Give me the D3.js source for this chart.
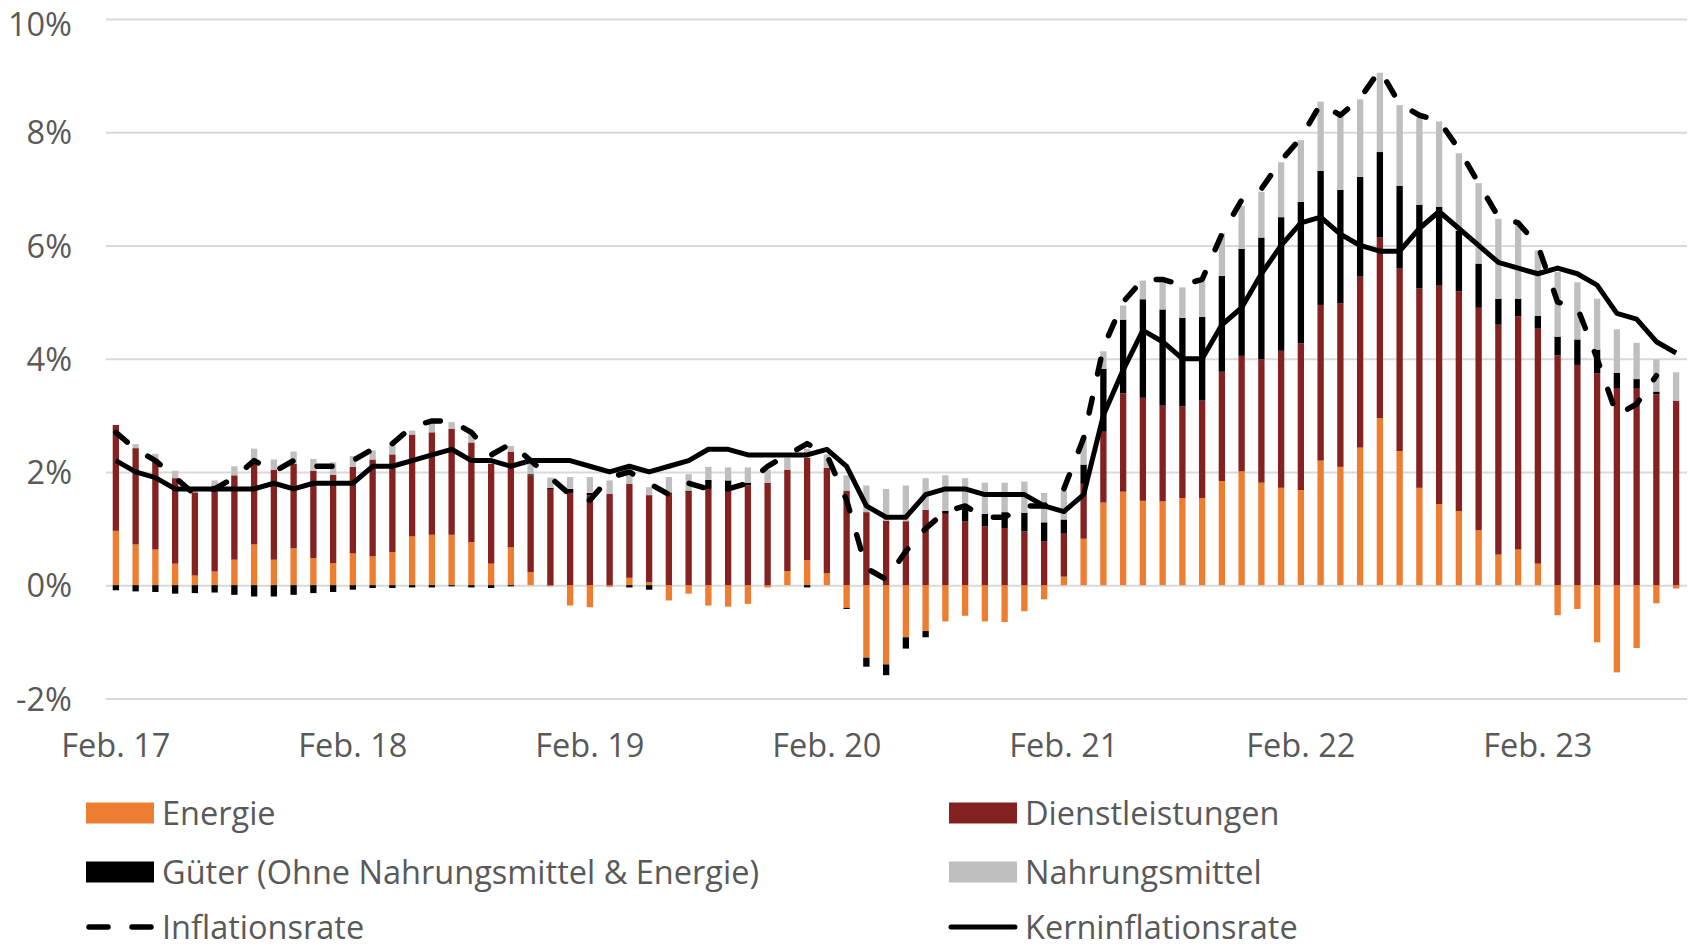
<!DOCTYPE html>
<html>
<head>
<meta charset="utf-8">
<script src="https://cdn.jsdelivr.net/npm/d3@7"></script>
<style>
  body { margin: 0; background: #fff; }
  .container text { font-family: "Open Sans", sans-serif; fill: #595959; }
</style>
</head>
<body>
<div class="container"></div>
<script>
var width = 1690;
var height = 950;

// Monate Feb. 2017 bis Sep. 2023
var months = [
  "2017-02","2017-03","2017-04","2017-05","2017-06","2017-07","2017-08","2017-09","2017-10","2017-11","2017-12",
  "2018-01","2018-02","2018-03","2018-04","2018-05","2018-06","2018-07","2018-08","2018-09","2018-10","2018-11","2018-12",
  "2019-01","2019-02","2019-03","2019-04","2019-05","2019-06","2019-07","2019-08","2019-09","2019-10","2019-11","2019-12",
  "2020-01","2020-02","2020-03","2020-04","2020-05","2020-06","2020-07","2020-08","2020-09","2020-10","2020-11","2020-12",
  "2021-01","2021-02","2021-03","2021-04","2021-05","2021-06","2021-07","2021-08","2021-09","2021-10","2021-11","2021-12",
  "2022-01","2022-02","2022-03","2022-04","2022-05","2022-06","2022-07","2022-08","2022-09","2022-10","2022-11","2022-12",
  "2023-01","2023-02","2023-03","2023-04","2023-05","2023-06","2023-07","2023-08","2023-09"
];

var tickMonths = ["2017-02","2018-02","2019-02","2020-02","2021-02","2022-02","2023-02"];
var tickLabels = ["Feb. 17","Feb. 18","Feb. 19","Feb. 20","Feb. 21","Feb. 22","Feb. 23"];
var yTicks = [-2, 0, 2, 4, 6, 8, 10];

// Beiträge in Prozentpunkten
var energie = [
  0.96,0.72,0.63,0.38,0.17,0.24,0.45,0.72,0.45,0.65,0.48,
  0.39,0.56,0.51,0.58,0.86,0.89,0.89,0.76,0.38,0.67,0.23,-0.02,
  -0.36,-0.39,-0.03,0.13,0.05,-0.27,-0.15,-0.36,-0.38,-0.33,-0.04,0.25,
  0.44,0.21,-0.40,-1.28,-1.40,-0.92,-0.81,-0.64,-0.54,-0.64,-0.65,-0.46,
  -0.25,0.15,0.82,1.46,1.65,1.49,1.48,1.54,1.54,1.84,2.01,1.81,
  1.72,1.68,2.20,2.09,2.43,2.95,2.37,1.72,1.43,1.31,0.97,0.54,
  0.63,0.38,-0.53,-0.42,-1.01,-1.54,-1.11,-0.32,-0.06
];
var dienstleistungen = [
  1.87,1.70,1.60,1.51,1.47,1.52,1.49,1.43,1.59,1.49,1.54,
  1.56,1.53,1.71,1.73,1.80,1.81,1.87,1.76,1.76,1.69,1.71,1.70,
  1.63,1.59,1.61,1.66,1.54,1.64,1.65,1.70,1.65,1.76,1.81,1.79,
  1.81,1.86,1.67,1.29,1.14,1.13,1.33,1.26,1.13,1.04,1.01,0.95,
  0.77,0.76,0.97,1.25,1.74,1.82,1.69,1.62,1.72,1.93,2.04,2.18,
  2.42,2.59,2.75,2.89,3.02,3.19,3.23,3.52,3.86,3.88,3.93,4.06,
  4.12,4.15,4.06,3.89,3.74,3.47,3.47,3.37,3.26
];
var gueter = [
  -0.09,-0.11,-0.12,-0.15,-0.14,-0.13,-0.17,-0.20,-0.20,-0.17,-0.14,
  -0.12,-0.08,-0.05,-0.05,-0.04,-0.04,-0.02,-0.04,-0.05,-0.02,0.02,0.02,
  0.07,0.04,0.00,-0.04,-0.08,0.00,0.02,0.16,0.20,0.05,0.00,0.00,
  -0.04,0.00,-0.02,-0.16,-0.19,-0.20,-0.11,0.05,0.23,0.22,0.28,0.33,
  0.34,0.25,0.34,1.11,1.30,1.74,1.70,1.56,1.48,1.69,1.89,2.15,
  2.36,2.50,2.37,2.00,1.76,1.51,1.45,1.48,1.39,1.07,0.78,0.46,
  0.31,0.23,0.33,0.45,0.42,0.28,0.17,0.05,0.00
];
var nahrungsmittel = [
  0.00,0.07,0.09,0.13,0.05,0.09,0.16,0.26,0.18,0.22,0.21,
  0.22,0.19,0.16,0.20,0.07,0.19,0.12,0.20,0.05,0.10,0.18,0.18,
  0.21,0.28,0.24,0.23,0.14,0.27,0.29,0.23,0.23,0.27,0.23,0.21,
  0.16,0.24,0.27,0.47,0.56,0.63,0.56,0.63,0.53,0.55,0.52,0.55,
  0.52,0.51,0.48,0.31,0.25,0.33,0.50,0.54,0.62,0.76,0.76,0.81,
  0.97,1.09,1.22,1.30,1.37,1.40,1.43,1.54,1.51,1.37,1.42,1.41,
  1.34,1.15,1.14,1.01,0.90,0.77,0.64,0.57,0.50
];
var inflationsrate = [
  2.7,2.4,2.2,1.9,1.6,1.7,1.9,2.2,2.0,2.2,2.1,
  2.1,2.2,2.4,2.5,2.8,2.9,2.9,2.7,2.3,2.5,2.2,1.9,
  1.6,1.5,1.9,2.0,1.8,1.6,1.8,1.7,1.7,1.8,2.1,2.3,
  2.5,2.3,1.5,0.3,0.1,0.6,1.0,1.3,1.4,1.2,1.2,1.4,
  1.4,1.7,2.6,4.2,5.0,5.4,5.4,5.3,5.4,6.2,6.8,7.0,
  7.5,7.9,8.5,8.3,8.6,9.1,8.5,8.3,8.2,7.7,7.1,6.5,
  6.4,6.0,5.0,4.9,4.0,3.0,3.2,3.7,null
];
var kerninflationsrate = [
  2.2,2.0,1.9,1.7,1.7,1.7,1.7,1.7,1.8,1.7,1.8,
  1.8,1.8,2.1,2.1,2.2,2.3,2.4,2.2,2.2,2.1,2.2,2.2,
  2.2,2.1,2.0,2.1,2.0,2.1,2.2,2.4,2.4,2.3,2.3,2.3,
  2.3,2.4,2.1,1.4,1.2,1.2,1.6,1.7,1.7,1.6,1.6,1.6,
  1.4,1.3,1.6,3.0,3.8,4.5,4.3,4.0,4.0,4.6,4.9,5.5,
  6.0,6.4,6.5,6.2,6.0,5.9,5.9,6.3,6.6,6.3,6.0,5.7,
  5.6,5.5,5.6,5.5,5.3,4.8,4.7,4.3,4.1
];

var seriesKeys = ["energie", "dienstleistungen", "gueter", "nahrungsmittel"];
var seriesColors = {
  energie: "#ED7D31",
  dienstleistungen: "#832220",
  gueter: "#000000",
  nahrungsmittel: "#BFBFBF"
};

var rows = months.map(function(m, i) {
  return {
    month: m,
    energie: energie[i],
    dienstleistungen: dienstleistungen[i],
    gueter: gueter[i],
    nahrungsmittel: nahrungsmittel[i]
  };
});

var plotLeft = 106, plotRight = 1686;
var fontSize = 32.5;

var x = d3.scaleBand()
  .domain(months)
  .range([plotLeft, plotRight])
  .paddingInner(0.68)
  .paddingOuter(0.34);

var y = d3.scaleLinear()
  .domain([-2, 10])
  .range([698.4, 19]);

var cx = function(m) { return x(m) + x.bandwidth() / 2; };

var svg = d3.select(".container").append("svg")
  .attr("width", width)
  .attr("height", height);

// Gitterlinien und y-Achse
var yAxis = d3.axisLeft(y)
  .tickValues(yTicks)
  .tickFormat(function(d) { return d + "%"; })
  .tickSize(-(plotRight + 1 - plotLeft))
  .tickPadding(34);

var gy = svg.append("g")
  .attr("transform", "translate(" + plotLeft + ",0)")
  .call(yAxis);
gy.select(".domain").remove();
gy.selectAll(".tick line").attr("stroke", "#d9d9d9").attr("stroke-width", 2);
gy.selectAll(".tick text")
  .attr("font-size", fontSize)
  .attr("fill", "#595959")
  .attr("dy", function(d) { return d === 10 ? "0.5em" : "0.36em"; });

// x-Achse
var xAxis = d3.axisBottom(x)
  .tickValues(tickMonths)
  .tickFormat(function(d) { return tickLabels[tickMonths.indexOf(d)]; })
  .tickSize(0)
  .tickPadding(0);

var gx = svg.append("g")
  .attr("transform", "translate(0,726)")
  .call(xAxis);
gx.select(".domain").remove();
gx.selectAll(".tick text")
  .attr("font-size", fontSize)
  .attr("fill", "#595959")
  .attr("dy", "0.95em");

// gestapelte Balken
var stack = d3.stack()
  .keys(seriesKeys)
  .offset(d3.stackOffsetDiverging);

var stacked = stack(rows);

svg.append("g").selectAll("g")
  .data(stacked)
  .join("g")
  .attr("fill", function(s) { return seriesColors[s.key]; })
  .selectAll("rect")
  .data(function(s) { return s; })
  .join("rect")
  .attr("x", function(d) { return x(d.data.month); })
  .attr("width", x.bandwidth())
  .attr("y", function(d) { return y(Math.max(d[0], d[1])); })
  .attr("height", function(d) { return Math.abs(y(d[0]) - y(d[1])); });

// Linien
var line = d3.line()
  .defined(function(d) { return d.v != null; })
  .x(function(d) { return cx(d.m); })
  .y(function(d) { return y(d.v); });

svg.append("path")
  .datum(months.map(function(m, i) { return { m: m, v: inflationsrate[i] }; }))
  .attr("d", line)
  .attr("fill", "none")
  .attr("stroke", "#000")
  .attr("stroke-width", 5.5)
  .attr("stroke-linecap", "round")
  .attr("stroke-linejoin", "round")
  .attr("stroke-dasharray", "15,25");

svg.append("path")
  .datum(months.map(function(m, i) { return { m: m, v: kerninflationsrate[i] }; }))
  .attr("d", line)
  .attr("fill", "none")
  .attr("stroke", "#000")
  .attr("stroke-width", 5)
  .attr("stroke-linejoin", "round");

// Legende
var legendItems = [
  { label: "Energie", type: "rect", color: seriesColors.energie, col: 0, row: 0 },
  { label: "Dienstleistungen", type: "rect", color: seriesColors.dienstleistungen, col: 1, row: 0 },
  { label: "Güter (Ohne Nahrungsmittel & Energie)", type: "rect", color: seriesColors.gueter, col: 0, row: 1 },
  { label: "Nahrungsmittel", type: "rect", color: seriesColors.nahrungsmittel, col: 1, row: 1 },
  { label: "Inflationsrate", type: "dash", color: "#000", col: 0, row: 2 },
  { label: "Kerninflationsrate", type: "line", color: "#000", col: 1, row: 2 }
];
var colX = [86, 949];
var rowY = [813, 872, 927];

var legend = svg.append("g").selectAll("g")
  .data(legendItems)
  .join("g")
  .attr("transform", function(d) { return "translate(" + colX[d.col] + "," + rowY[d.row] + ")"; });

legend.filter(function(d) { return d.type === "rect"; })
  .append("rect")
  .attr("x", 0).attr("y", -10.5)
  .attr("width", 68).attr("height", 21)
  .attr("fill", function(d) { return d.color; });

legend.filter(function(d) { return d.type === "dash"; })
  .append("path")
  .attr("d", "M3,0H65")
  .attr("stroke", "#000")
  .attr("stroke-width", 5.5)
  .attr("stroke-linecap", "round")
  .attr("stroke-dasharray", "19,24");

legend.filter(function(d) { return d.type === "line"; })
  .append("path")
  .attr("d", "M2,0H66")
  .attr("stroke", "#000")
  .attr("stroke-width", 5)
  .attr("stroke-linecap", "round");

legend.append("text")
  .attr("x", 76)
  .attr("dy", "0.36em")
  .attr("font-size", fontSize)
  .text(function(d) { return d.label; });
</script>
</body>
</html>
